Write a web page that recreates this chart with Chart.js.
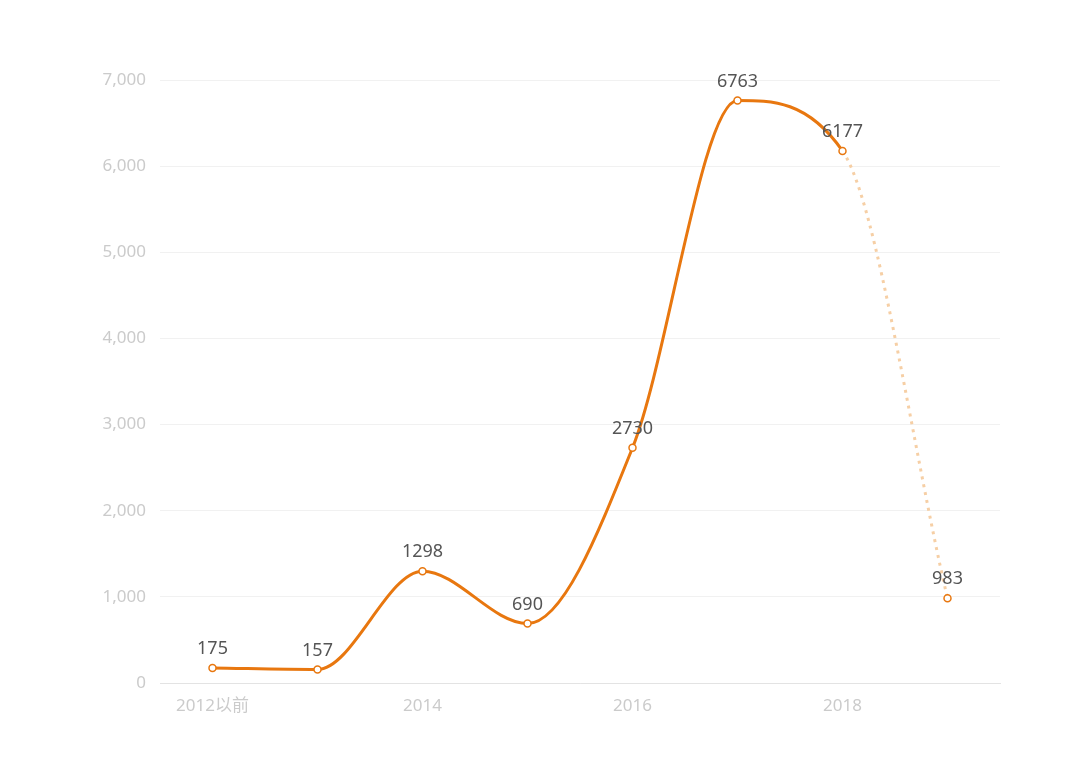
<!DOCTYPE html>
<html>
<head>
<meta charset="utf-8">
<script src="https://cdn.jsdelivr.net/npm/chart.js@4/dist/chart.umd.min.js"></script>
<style>
  html, body { margin: 0; padding: 0; background: #fff; }
  #wrap { width: 1080px; height: 762px; position: relative; }
</style>
</head>
<body>
<div id="wrap"><canvas id="lineChart"></canvas></div>
<script>
const years = ['2012以前', '2013', '2014', '2015', '2016', '2017', '2018', '2019'];
const counts = [175, 157, 1298, 690, 2730, 6763, 6177, 983];
const yTicks = [0, 1000, 2000, 3000, 4000, 5000, 6000, 7000];

const orange = '#e8770f';
const paleOrange = '#f6cfa5';
const fontFamily = '"Noto Sans", "Noto Sans CJK SC", sans-serif';

// draw the value above each point
const valueLabels = {
    id: 'valueLabels',
    afterDatasetsDraw(chart) {
        const c = chart.ctx;
        const meta = chart.getDatasetMeta(0);
        c.save();
        c.font = '18px ' + fontFamily;
        c.fillStyle = '#555';
        c.textAlign = 'center';
        c.textBaseline = 'bottom';
        meta.data.forEach((pt, i) => {
            c.fillText(String(counts[i]), pt.x, pt.y - 10);
        });
        c.restore();
    }
};

const ctx = document.getElementById('lineChart').getContext('2d');
const lineChart = new Chart(ctx, {
    type: 'line',
    data: {
        labels: years,
        datasets: [{
            data: counts,
            borderColor: orange,
            borderWidth: 3,
            cubicInterpolationMode: 'monotone',
            pointRadius: 3.5,
            pointBorderWidth: 1.5,
            pointBackgroundColor: '#fff',
            pointBorderColor: orange,
            segment: {
                borderColor: s => s.p1DataIndex === years.length - 1 ? paleOrange : undefined,
                borderDash: s => s.p1DataIndex === years.length - 1 ? [3, 5] : undefined
            }
        }]
    },
    options: {
        animation: false,
        responsive: true,
        maintainAspectRatio: false,
        layout: { padding: { top: 80, right: 80, left: 0, bottom: 0 } },
        plugins: { legend: { display: false }, tooltip: { enabled: false } },
        scales: {
            x: {
                offset: true,
                grid: { display: false, drawTicks: false },
                border: { color: '#e3e3e3', width: 1 },
                ticks: {
                    autoSkip: false,
                    maxRotation: 0,
                    padding: 13,
                    color: '#cbcbcb',
                    font: { size: 17, family: fontFamily },
                    callback: (v, i) => i % 2 === 0 ? years[i] : ''
                },
                afterFit: s => { s.height = 79; }
            },
            y: {
                min: 0,
                max: 7000,
                afterBuildTicks: s => { s.ticks = yTicks.map(v => ({ value: v })); },
                grid: { color: '#f1f1f1', drawTicks: false },
                border: { display: false },
                ticks: {
                    padding: 14,
                    color: '#cbcbcb',
                    font: { size: 17, family: fontFamily },
                    callback: v => v.toLocaleString('en-US')
                },
                afterFit: s => { s.width = 160; }
            }
        }
    },
    plugins: [valueLabels]
});
</script>
</body>
</html>
